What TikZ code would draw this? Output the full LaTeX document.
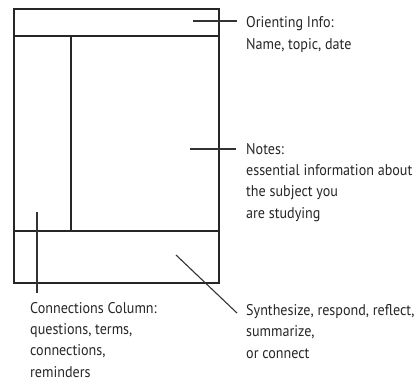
\documentclass[tikz,border=0pt]{standalone}
\usepackage{fontspec}
\setmainfont{PT Sans}[FakeStretch=0.91]
\begin{document}
\begin{tikzpicture}[x=1pt,y=-1pt,
  frame/.style={draw=black!85,line width=1.3pt},
  leader/.style={draw=black!80,line width=1.1pt},
  lbl/.style={anchor=base west,inner sep=0pt,align=left,text=black!85,
    font=\fontsize{15.5}{21.3}\selectfont}]
\useasboundingbox (0,0) rectangle (419,381);
% frame
\draw[frame] (14,9) rectangle (219,283);
\draw[frame] (14,36) -- (219,36);
\draw[frame] (14,231) -- (219,231);
\draw[frame] (71,36) -- (71,231);
% labels (anchored at the baseline of their last line)
\node[lbl] (orient) at (246,49) {Orienting Info:\\Name, topic, date};
\node[lbl] (notes) at (246,218) {Notes:\\essential information about\\the subject you\\are studying};
\node[lbl] (conn) at (30,377) {Connections Column:\\questions, terms,\\connections,\\reminders};
\node[lbl] (synth) at (246,358) {Synthesize, respond, reflect,\\summarize,\\or connect};
% leaders
\coordinate (o1) at (193,21);
\coordinate (o2) at (237,21);
\coordinate (n1) at (190,149);
\coordinate (n2) at (236,149);
\coordinate (c1) at (37,212);
\coordinate (c2) at (37,293);
\coordinate (s1) at (176,255);
\coordinate (s2) at (237,313);
\draw[leader] (o1) -- (o2);
\draw[leader] (n1) -- (n2);
\draw[leader] (c1) -- (c2);
\draw[leader] (s1) -- (s2);
\end{tikzpicture}
\end{document}
